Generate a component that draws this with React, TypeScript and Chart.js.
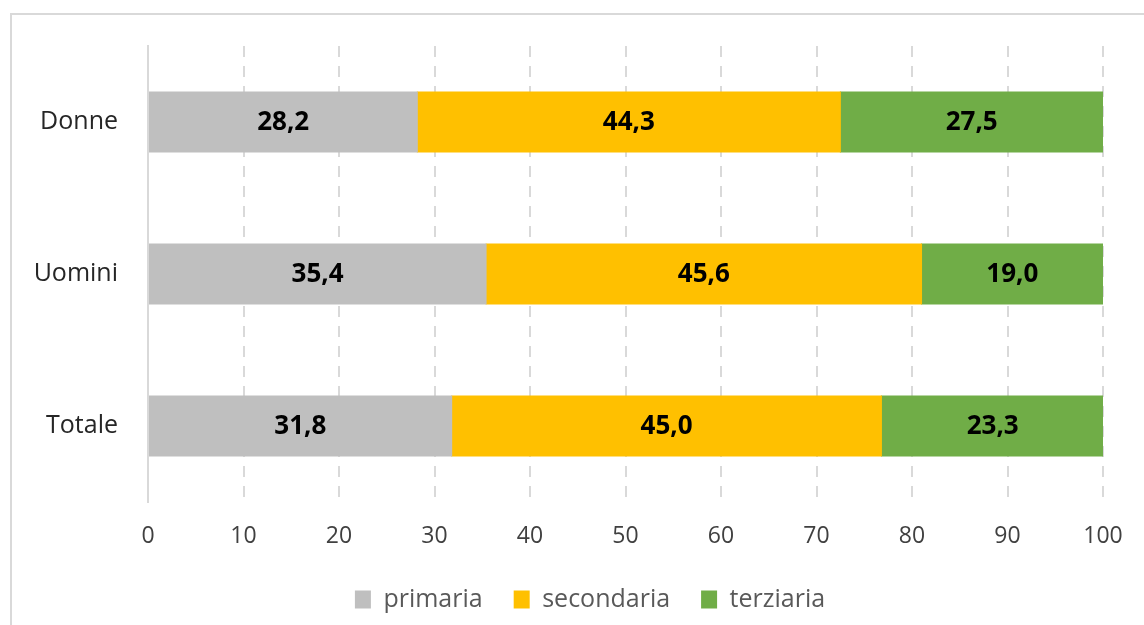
import React, { useEffect, useRef } from "react";
import { Chart, registerables } from "chart.js";

Chart.register(...registerables);

const categories = ["Donne", "Uomini", "Totale"];
const seriesNames = ["primaria", "secondaria", "terziaria"];
const primaria = [28.2, 35.4, 31.8];
const secondaria = [44.3, 45.6, 45.0];
const terziaria = [27.5, 19.0, 23.3];
const seriesColors = ["#bfbfbf", "#ffc000", "#70ad47"];
const xMin = 0;
const xMax = 100;
const xStep = 10;

const FONT = "'Open Sans', 'DejaVu Sans', sans-serif";

const dataLabelPlugin = {
  id: "dataLabels",
  afterDatasetsDraw(chart: any) {
    const ctx = chart.ctx;
    ctx.save();
    ctx.font = `bold 26px ${FONT}`;
    ctx.fillStyle = "#000000";
    ctx.textAlign = "center";
    ctx.textBaseline = "middle";
    chart.data.datasets.forEach((ds: any, di: number) => {
      const meta = chart.getDatasetMeta(di);
      if (meta.hidden) return;
      meta.data.forEach((el: any, i: number) => {
        const v = ds.data[i];
        const cx = (el.x + el.base) / 2;
        ctx.fillText(v.toFixed(1).replace(".", ","), cx, el.y + 1);
      });
    });
    ctx.restore();
  },
};

export default function App() {
  const ref = useRef<HTMLCanvasElement | null>(null);

  useEffect(() => {
    if (!ref.current) return;
    const values = [primaria, secondaria, terziaria];
    const chart = new Chart(ref.current, {
      type: "bar",
      data: {
        labels: categories,
        datasets: seriesNames.map((name, i) => ({
          label: name,
          data: values[i],
          backgroundColor: seriesColors[i],
          borderWidth: 0,
          inflateAmount: 0.5,
          categoryPercentage: 1,
          barPercentage: 0.395,
        })),
      },
      options: {
        indexAxis: "y",
        responsive: false,
        animation: false,
        layout: { padding: { top: 46, bottom: 3, left: 0, right: 0 } },
        scales: {
          x: {
            stacked: true,
            min: xMin,
            max: xMax,
            position: "bottom",
            ticks: {
              stepSize: xStep,
              padding: 21,
              color: "#404040",
              font: { family: FONT, size: 23 },
              maxRotation: 0,
            },
            grid: {
              display: true,
              drawTicks: false,
              lineWidth: 2,
              color: (c: any) => (c.index === 0 ? "rgba(0,0,0,0)" : "#d9d9d9"),
            },
            border: { display: false, dash: [11, 9] },
            afterFit: (s: any) => {
              s.height = 54;
            },
          },
          y: {
            stacked: true,
            position: "left",
            ticks: {
              padding: 30,
              color: "#262626",
              font: { family: FONT, size: 25 },
            },
            grid: { display: false, drawTicks: false },
            border: { display: true, color: "#d9d9d9", width: 2, z: 1 },
            afterFit: (s: any) => {
              s.width = 148;
            },
          },
          yRight: {
            type: "linear",
            position: "right",
            display: true,
            ticks: { display: false },
            grid: { display: false, drawTicks: false },
            border: { display: false },
            afterFit: (s: any) => {
              s.width = 77;
            },
          },
        },
        plugins: {
          legend: {
            position: "bottom",
            align: "center",
            labels: {
              boxWidth: 16,
              boxHeight: 18,
              padding: 31,
              color: "#595959",
              font: { family: FONT, size: 25 },
            },
          },
          tooltip: { enabled: false },
          title: { display: false },
        },
      } as any,
      plugins: [dataLabelPlugin],
    });
    return () => chart.destroy();
  }, []);

  return (
    <div
      style={{
        position: "fixed",
        left: 0,
        top: 0,
        width: 1144,
        height: 625,
        overflow: "hidden",
        background: "#ffffff",
      }}
    >
      <div
        style={{
          position: "absolute",
          left: 10,
          top: 13,
          width: 2000,
          height: 2000,
          borderLeft: "2px solid #d9d9d9",
          borderTop: "2px solid #d9d9d9",
        }}
      />
      <canvas
        ref={ref}
        width={1180}
        height={625}
        style={{ position: "absolute", left: 0, top: 0, display: "block" }}
      />
    </div>
  );
}
